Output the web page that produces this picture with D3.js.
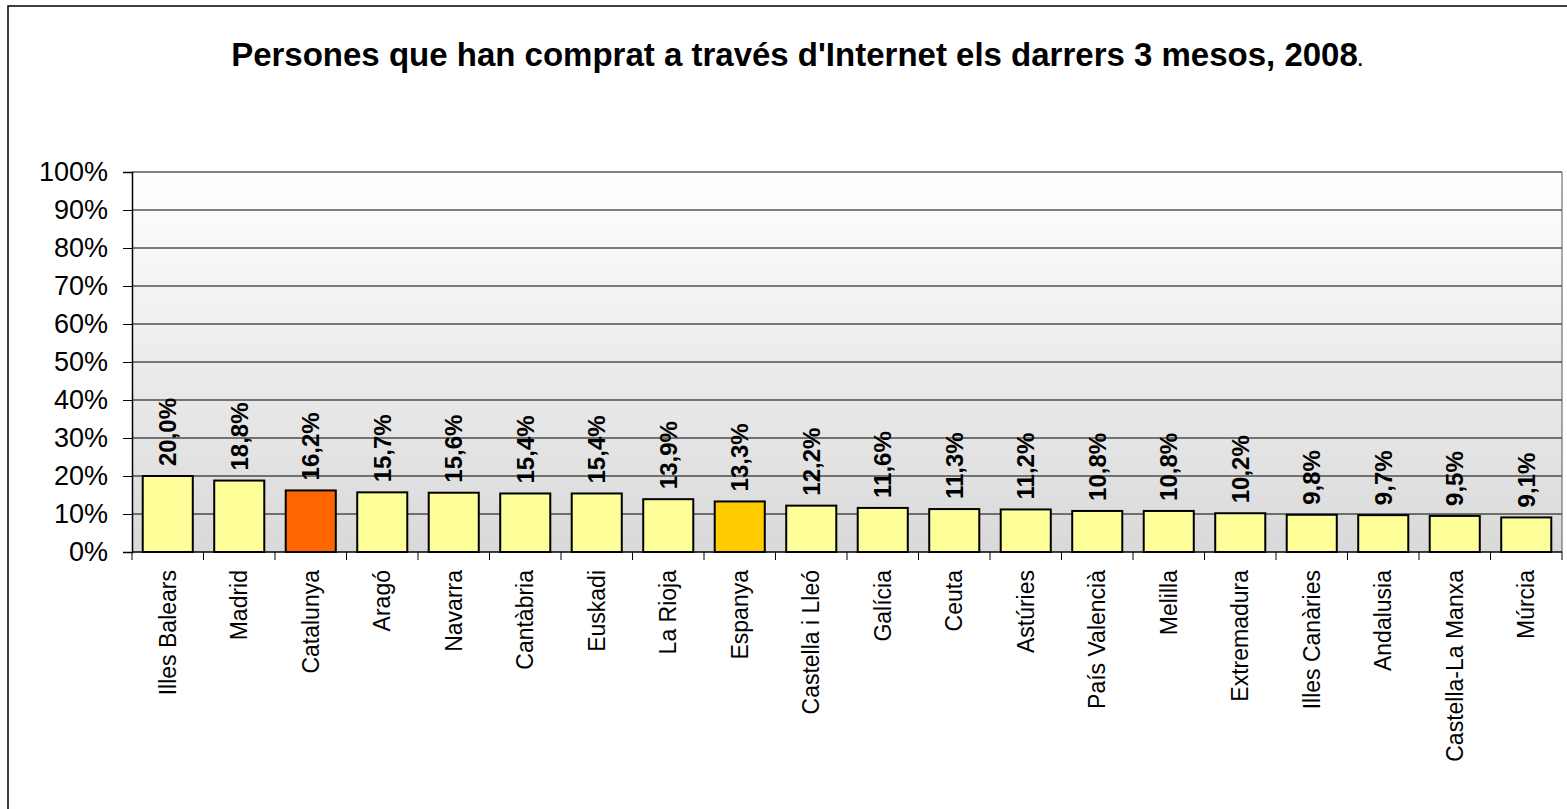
<!DOCTYPE html>
<html lang="ca">
<head>
<meta charset="utf-8">
<title>Persones que han comprat a través d'Internet</title>
<script src="https://d3js.org/d3.v7.min.js"></script>
<style>
  body { margin: 0; background: #fff; font-family: 'Liberation Sans', Arial, sans-serif; }
  .title { font-weight: bold; font-size: 33px; }
  .yaxis text { font-size: 27px; }
  .xlabel { font-size: 23px; }
  .vlabel { font-size: 24px; font-weight: bold; }
</style>
</head>
<body>
<div id="chart"></div>
<script>

// data
var regions = ["Illes Balears", "Madrid", "Catalunya", "Aragó", "Navarra", "Cantàbria",
  "Euskadi", "La Rioja", "Espanya", "Castella i Lleó", "Galícia", "Ceuta", "Astúries",
  "País Valencià", "Melilla", "Extremadura", "Illes Canàries", "Andalusia",
  "Castella-La Manxa", "Múrcia"];
var values = [20.0, 18.8, 16.2, 15.7, 15.6, 15.4, 15.4, 13.9, 13.3, 12.2, 11.6, 11.3,
  11.2, 10.8, 10.8, 10.2, 9.8, 9.7, 9.5, 9.1];
var yTicks = [0, 10, 20, 30, 40, 50, 60, 70, 80, 90, 100];

var data = regions.map(function(r, i) { return {region: r, value: values[i]}; });

var colours = { normal: "#FFFF99", Catalunya: "#FF6600", Espanya: "#FFCC00" };

var width = 1567, height = 809;
var plot = {left: 132, right: 1562, top: 172, bottom: 552};

var svg = d3.select("#chart")
  .append("svg")
    .attr("width", width)
    .attr("height", height);

// outer frame
svg.append("rect")
  .attr("x", 8).attr("y", 6)
  .attr("width", 1600).attr("height", 900)
  .style("fill", "none")
  .style("stroke", "#000")
  .style("stroke-width", 1.5);

// title
var title = svg.append("text")
  .attr("class", "title")
  .attr("x", 797)
  .attr("y", 66)
  .attr("text-anchor", "middle");
title.append("tspan").text("Persones que han comprat a través d'Internet els darrers 3 mesos, 2008");
title.append("tspan").style("font-size", "18px").text(".");

// background gradient
var grad = svg.append("defs").append("linearGradient")
  .attr("id", "bg")
  .attr("x1", 0).attr("y1", 0).attr("x2", 0).attr("y2", 1);
grad.append("stop").attr("offset", "0%").attr("stop-color", "#ffffff");
grad.append("stop").attr("offset", "100%").attr("stop-color", "#d9d9d9");

var x = d3.scaleBand()
  .domain(regions)
  .range([plot.left, plot.right])
  .paddingInner(0.3)
  .paddingOuter(0.15);

var y = d3.scaleLinear()
  .domain([0, 100])
  .range([plot.bottom, plot.top]);

svg.append("rect")
  .attr("x", plot.left).attr("y", plot.top)
  .attr("width", plot.right - plot.left)
  .attr("height", plot.bottom - plot.top)
  .style("fill", "url(#bg)");

// gridlines
svg.append("g")
  .selectAll("line")
  .data(yTicks.filter(function(d) { return d > 0; }))
  .enter()
  .append("line")
    .attr("x1", plot.left).attr("x2", plot.right)
    .attr("y1", function(d) { return y(d); })
    .attr("y2", function(d) { return y(d); })
    .style("stroke", "#000")
    .style("stroke-width", 1);

// right border
svg.append("line")
  .attr("x1", plot.right).attr("x2", plot.right)
  .attr("y1", plot.top).attr("y2", plot.bottom)
  .style("stroke", "#555")
  .style("stroke-width", 1);

// Y axis
svg.append("g")
  .attr("class", "yaxis")
  .attr("transform", "translate(" + plot.left + ",0)")
  .call(d3.axisLeft(y).tickValues(yTicks).tickSize(9).tickPadding(15)
    .tickFormat(function(d) { return d + "%"; }))
  .call(function(g) {
    g.select(".domain").style("stroke-width", 1.5);
    g.selectAll("text").style("font-family", "'Liberation Sans', Arial, sans-serif").attr("fill", "#000");
  });

// bars
svg.append("g")
  .selectAll("rect")
  .data(data)
  .enter()
  .append("rect")
    .attr("x", function(d) { return x(d.region); })
    .attr("y", function(d) { return y(d.value); })
    .attr("width", x.bandwidth())
    .attr("height", function(d) { return y(0) - y(d.value); })
    .style("fill", function(d) { return colours[d.region] || colours.normal; })
    .style("stroke", "#000")
    .style("stroke-width", 2);

// X axis line + category boundary ticks
svg.append("line")
  .attr("x1", plot.left).attr("x2", plot.right)
  .attr("y1", plot.bottom).attr("y2", plot.bottom)
  .style("stroke", "#000")
  .style("stroke-width", 1.5);

svg.append("g")
  .selectAll("line")
  .data(d3.range(regions.length + 1))
  .enter()
  .append("line")
    .attr("x1", function(i) { return plot.left + i * x.step(); })
    .attr("x2", function(i) { return plot.left + i * x.step(); })
    .attr("y1", plot.bottom)
    .attr("y2", plot.bottom + 8)
    .style("stroke", "#000")
    .style("stroke-width", 1);

// category labels
svg.append("g")
  .selectAll("text")
  .data(data)
  .enter()
  .append("text")
    .attr("class", "xlabel")
    .attr("text-anchor", "end")
    .attr("dy", "0.35em")
    .attr("transform", function(d) {
      return "translate(" + (x(d.region) + x.bandwidth() / 2) + "," + (plot.bottom + 18) + ") rotate(-90)";
    })
    .text(function(d) { return d.region; });

// value labels
svg.append("g")
  .selectAll("text")
  .data(data)
  .enter()
  .append("text")
    .attr("class", "vlabel")
    .attr("text-anchor", "start")
    .attr("dy", "0.35em")
    .attr("transform", function(d) {
      return "translate(" + (x(d.region) + x.bandwidth() / 2) + "," + (y(d.value) - 10) + ") rotate(-90)";
    })
    .text(function(d) { return d.value.toFixed(1).replace(".", ",") + "%"; });

</script>
</body>
</html>
